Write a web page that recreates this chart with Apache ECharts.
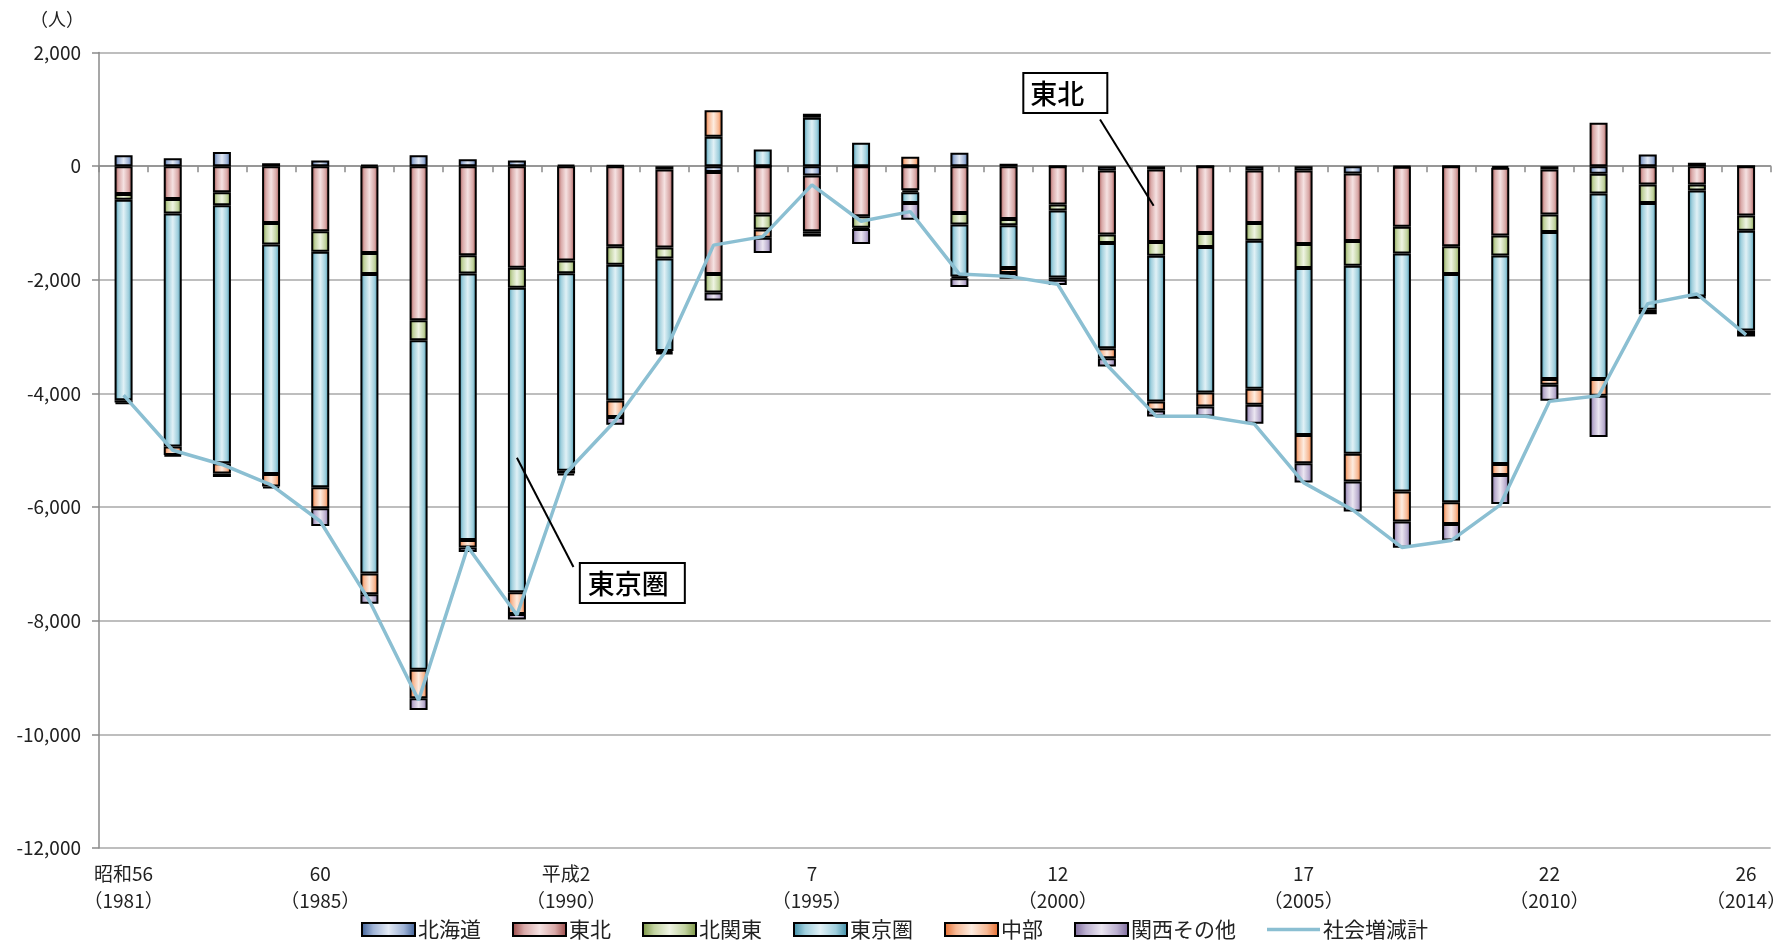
<!DOCTYPE html>
<html>
<head>
<meta charset="utf-8">
<script src="https://cdn.jsdelivr.net/npm/echarts@6/dist/echarts.min.js"></script>
<style>
  html, body { margin: 0; padding: 0; background: #fff; }
  #chart { width: 1789px; height: 945px; }
</style>
</head>
<body>
<div id="chart"></div>
<script>
// 年次（昭和56年〜平成26年）
const years = [
  1981, 1982, 1983, 1984, 1985, 1986, 1987, 1988, 1989, 1990,
  1991, 1992, 1993, 1994, 1995, 1996, 1997, 1998, 1999, 2000,
  2001, 2002, 2003, 2004, 2005, 2006, 2007, 2008, 2009, 2010,
  2011, 2012, 2013, 2014
];

// 横軸の目盛ラベル（和暦＋西暦）
const tickLabels = {
  1981: '昭和56\n（1981）',
  1985: '60\n（1985）',
  1990: '平成2\n（1990）',
  1995: '7\n（1995）',
  2000: '12\n（2000）',
  2005: '17\n（2005）',
  2010: '22\n（2010）',
  2014: '26\n（2014）'
};

// 地域別の社会増減（人）
const hokkaido = [
  190, 140, 250, 50, 100, 20, 190, 120, 100, 20,
  10, -60, -105, 0, -165, 0, 0, 235, 40, 0,
  -75, -60, 0, -76, -76, -129, -10, 0, -30, -60,
  -135, 206, 60, 0
];
const tohoku = [
  -490, -580, -460, -1000, -1145, -1530, -2710, -1570, -1790, -1660,
  -1410, -1370, -1795, -850, -982, -880, -423, -823, -929, -675,
  -1130, -1275, -1176, -924, -1294, -1188, -1058, -1411, -1190, -793,
  764, -323, -323, -870
];
const kitaKanto = [
  -100, -255, -230, -380, -363, -370, -355, -320, -350, -225,
  -325, -195, -323, -265, -40, -206, -35, -206, -112, -105,
  -147, -241, -247, -311, -423, -435, -471, -488, -353, -305,
  -347, -324, -106, -265
];
const tokyoArea = [
  -3530, -4100, -4540, -4040, -4142, -5270, -5800, -4690, -5360, -3475,
  -2390, -1630, 517, 294, 853, 412, -190, -911, -752, -1180,
  -1853, -2565, -2559, -2606, -2940, -3310, -4185, -4014, -3668, -2588,
  -3264, -1881, -1864, -1758
];
const chubu = [
  -40, -150, -180, -220, -370, -365, -500, -130, -380, -50,
  -290, -30, 465, -147, 70, -20, 165, -35, -89, -40,
  -176, -159, -247, -282, -494, -488, -529, -383, -194, -100,
  -294, -40, -20, -60
];
const kansaiOther = [
  -30, -20, -60, -30, -312, -165, -206, -80, -100, -30,
  -135, -25, -141, -265, -50, -264, -294, -153, -100, -90,
  -147, -105, -176, -335, -341, -529, -464, -294, -511, -282,
  -728, -37, -10, -45
];
// 社会増減計
const socialTotal = [
  -4030, -5000, -5250, -5610, -6250, -7650, -9400, -6700, -7900, -5400,
  -4480, -3290, -1390, -1240, -330, -970, -800, -1900, -1940, -2080,
  -3500, -4400, -4400, -4540, -5570, -6050, -6710, -6590, -5960, -4140,
  -4040, -2420, -2250, -2970
];

const yTicks = { min: -12000, max: 2000, step: 2000 };

// 吹き出し（枠の左上と引出線の両端を、カテゴリ番号と値で指定）
const callouts = [
  { text: '東京圏', box: [9.3, -7000], from: [8.0, -5133], to: [9.15, -7054], padding: [6, 15, 5, 7] },
  { text: '東北',   box: [18.32, 1620], from: [20.95, -696], to: [19.86, 822], padding: [6, 22, 5, 6] }
];

const FONT = '"Noto Sans CJK JP", "Noto Sans", sans-serif';

// 棒の塗り：左右の端が濃く中央が明るい横方向グラデーション
function barFill(edge, mid, center) {
  return {
    type: 'linear', x: 0, y: 0, x2: 1, y2: 0,
    colorStops: [
      { offset: 0, color: edge },
      { offset: 0.22, color: mid },
      { offset: 0.5, color: center },
      { offset: 0.78, color: mid },
      { offset: 1, color: edge }
    ]
  };
}

const regions = [
  { name: '北海道',     data: hokkaido,    fill: barFill('#3c5e95', '#9fb3d6', '#e3eaf5') },
  { name: '東北',       data: tohoku,      fill: barFill('#984644', '#d9a9a8', '#f5e2e2') },
  { name: '北関東',     data: kitaKanto,   fill: barFill('#78923f', '#c2d3a0', '#eff4e3') },
  { name: '東京圏',     data: tokyoArea,   fill: barFill('#3a8aa3', '#9fcfdd', '#e1f1f6') },
  { name: '中部',       data: chubu,       fill: barFill('#e4692a', '#f7b995', '#fdece0') },
  { name: '関西その他', data: kansaiOther, fill: barFill('#7a6799', '#bcb0d0', '#ebe6f1') }
];

const series = regions.map(r => ({
  name: r.name,
  type: 'bar',
  stack: 'region',
  barWidth: 18,
  data: r.data,
  itemStyle: { color: r.fill, borderColor: '#000', borderWidth: 2 },
  emphasis: { disabled: true }
}));

series.push({
  name: '社会増減計',
  type: 'line',
  data: socialTotal,
  symbol: 'none',
  z: 5,
  lineStyle: { color: '#8bbfd2', width: 3.5 },
  itemStyle: { color: '#8bbfd2' },
  emphasis: { disabled: true }
});

const chart = echarts.init(document.getElementById('chart'), null, { renderer: 'canvas' });

chart.setOption({
  animation: false,
  backgroundColor: '#fff',
  textStyle: { fontFamily: FONT },
  grid: { left: 99, right: 7, top: 52.5, bottom: 97, containLabel: false },
  legend: {
    bottom: 0,
    left: 'center',
    itemWidth: 53,
    itemHeight: 13,
    itemGap: 31,
    icon: 'rect',
    textStyle: { fontSize: 21, color: '#222', fontFamily: FONT, padding: [0, 0, 0, -2] },
    data: regions.map(r => ({ name: r.name, itemStyle: { borderColor: '#000', borderWidth: 2 } }))
      .concat([{ name: '社会増減計', icon: 'path://M0,0 L53,0 L53,3.5 L0,3.5 Z', itemStyle: { color: '#8bbfd2' } }])
  },
  xAxis: [
    {
      type: 'category',
      data: years,
      axisLine: { onZero: true, lineStyle: { color: '#8a8a8a', width: 1.5 } },
      axisTick: { show: true, length: 6, lineStyle: { color: '#8a8a8a', width: 1.5 } },
      axisLabel: { show: false },
      splitLine: { show: false }
    },
    {
      type: 'category',
      data: years,
      position: 'bottom',
      axisLine: { show: false, onZero: false },
      axisTick: { show: false },
      axisLabel: {
        interval: 0,
        margin: 12,
        fontSize: 19,
        lineHeight: 27,
        color: '#222',
        fontFamily: FONT,
        formatter: v => tickLabels[v] || ''
      },
      splitLine: { show: false }
    }
  ],
  yAxis: {
    type: 'value',
    min: yTicks.min,
    max: yTicks.max,
    interval: yTicks.step,
    axisLine: { show: true, lineStyle: { color: '#8a8a8a', width: 1.5 } },
    axisTick: { show: true, length: 7, lineStyle: { color: '#8a8a8a', width: 1.5 } },
    axisLabel: {
      fontSize: 19,
      color: '#222',
      margin: 18,
      fontFamily: FONT,
      formatter: v => v.toLocaleString('en-US')
    },
    splitLine: { lineStyle: { color: '#a8a8a8', width: 1.5 } }
  },
  series: series
});

// カテゴリ番号（小数可）と値 → ピクセル座標
function toPixel(idx, val) {
  const x0 = chart.convertToPixel({ xAxisIndex: 0 }, 0);
  const x1 = chart.convertToPixel({ xAxisIndex: 0 }, 1);
  const y = chart.convertToPixel({ yAxisIndex: 0 }, val);
  return [x0 + idx * (x1 - x0), y];
}

const graphics = [
  {
    type: 'text',
    left: 30,
    top: 10,
    style: { text: '（人）', font: '18px ' + FONT, fill: '#222' }
  }
];

callouts.forEach(c => {
  const p1 = toPixel(c.from[0], c.from[1]);
  const p2 = toPixel(c.to[0], c.to[1]);
  const b = toPixel(c.box[0], c.box[1]);
  graphics.push({
    type: 'line',
    shape: { x1: p1[0], y1: p1[1], x2: p2[0], y2: p2[1] },
    style: { stroke: '#000', lineWidth: 2 },
    z: 10
  });
  graphics.push({
    type: 'text',
    x: b[0],
    y: b[1],
    z: 11,
    style: {
      text: c.text,
      font: '500 27px ' + FONT,
      fill: '#000',
      backgroundColor: '#fff',
      borderColor: '#000',
      borderWidth: 2,
      padding: c.padding
    }
  });
});

chart.setOption({ graphic: graphics });
</script>
</body>
</html>
